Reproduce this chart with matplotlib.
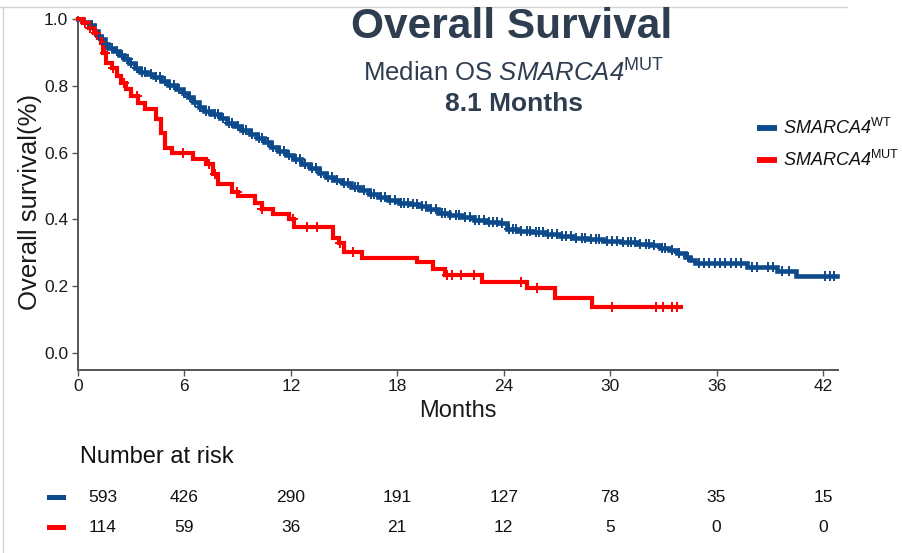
import numpy as np
import matplotlib
matplotlib.use("Agg")
import matplotlib.pyplot as plt
from matplotlib.lines import Line2D
from matplotlib.patches import Rectangle
import matplotlib.transforms as mtransforms

plt.rcParams['font.family'] = ['Liberation Sans', 'DejaVu Sans']
plt.rcParams['mathtext.fontset'] = 'custom'
plt.rcParams['mathtext.rm'] = 'Liberation Sans'
plt.rcParams['mathtext.it'] = 'Liberation Sans:italic'
plt.rcParams['mathtext.sf'] = 'Liberation Sans:italic'
plt.rcParams['mathtext.bf'] = 'Liberation Sans:bold'

# ---- Kaplan-Meier step data (months, survival probability) ----
wt_time = [0, 0.3, 0.6, 0.9, 1.1, 1.3, 1.5, 1.7, 2.0, 2.3, 2.6, 2.9, 3.2, 3.5, 3.9,
           4.3, 4.7, 5.1, 5.5, 5.9, 6.2, 6.5, 6.8, 7.1, 7.5, 8.0, 8.4, 8.8, 9.2, 9.7,
           10.1, 10.5, 10.9, 11.3, 11.7, 12.1, 12.6, 13.1, 13.6, 14.0, 14.4, 14.9,
           15.4, 15.9, 16.4, 16.9, 17.5, 18.1, 18.7, 19.2, 19.7, 20.3, 20.9, 21.6,
           22.3, 23.0, 23.7, 24.2, 24.8, 25.6, 26.4, 27.2, 27.9, 28.7, 29.6, 30.6,
           31.5, 32.3, 32.8, 33.3, 33.8, 34.2, 34.5, 34.8, 37.7, 39.4, 40.5, 42.8]
wt_surv = [1.0, 0.993, 0.983, 0.965, 0.95, 0.94, 0.925, 0.915, 0.905, 0.893, 0.88,
           0.868, 0.853, 0.842, 0.835, 0.828, 0.815, 0.803, 0.792, 0.78, 0.768, 0.752,
           0.738, 0.724, 0.715, 0.703, 0.69, 0.68, 0.668, 0.655, 0.645, 0.632, 0.618,
           0.605, 0.592, 0.58, 0.567, 0.555, 0.54, 0.528, 0.518, 0.508, 0.498, 0.488,
           0.477, 0.467, 0.458, 0.45, 0.447, 0.44, 0.43, 0.42, 0.413, 0.407, 0.398,
           0.392, 0.388, 0.372, 0.366, 0.362, 0.356, 0.351, 0.345, 0.34, 0.336, 0.332,
           0.327, 0.322, 0.315, 0.308, 0.298, 0.288, 0.278, 0.27, 0.258, 0.246, 0.231,
           0.231]
wt_censor = [0.8, 1.2, 1.6, 1.9, 2.2, 2.5, 2.8, 3.0, 3.3, 3.6, 3.8, 4.1, 4.4, 4.6, 4.9,
             5.2, 5.4, 5.7, 6.0, 6.3, 6.6, 6.9, 7.2, 7.4, 7.7, 7.9, 8.2, 8.5, 8.7, 9.0,
             9.3, 9.5, 9.8, 10.2, 10.4, 10.7, 11.0, 11.4, 11.6, 11.9, 12.3, 12.5, 12.8,
             13.2, 13.4, 13.7, 14.1, 14.3, 14.6, 15.0, 15.2, 15.6, 15.8, 16.1, 16.5,
             16.7, 17.1, 17.3, 17.6, 17.9, 18.2, 18.4, 18.6, 18.9, 19.1, 19.4, 19.6,
             19.9, 20.2, 20.5, 20.7, 21.0, 21.3, 21.5, 21.8, 22.1, 22.4, 22.6, 22.9,
             23.2, 23.4, 23.6, 23.9, 24.3, 24.5, 24.7, 25.0, 25.3, 25.5, 25.8, 26.0,
             26.2, 26.5, 26.7, 27.0, 27.3, 27.5, 27.8, 28.1, 28.4, 28.6, 28.9, 29.2,
             29.4, 29.8, 30.1, 30.4, 30.7, 31.0, 31.2, 31.4, 31.7, 32.0, 32.2, 32.5,
             32.9, 33.1, 33.5, 33.9, 34.4, 35.0, 35.3, 35.6, 35.9, 36.2, 36.5, 36.8,
             37.1, 37.4, 38.0, 38.3, 38.9, 39.2, 39.7, 40.1, 42.1, 42.4, 42.6]

mut_time = [0, 0.3, 0.6, 0.9, 1.1, 1.3, 1.4, 1.6, 1.9, 2.2, 2.4, 2.7, 3.0, 3.4, 3.8,
            4.4, 4.7, 4.9, 5.3, 6.5, 7.2, 7.6, 7.9, 8.7, 9.0, 10.0, 10.4, 11.0, 11.9,
            12.2, 14.4, 14.7, 15.0, 16.0, 19.1, 20.0, 20.7, 22.8, 25.3, 26.9, 29.0, 34.0]
mut_surv = [1.0, 0.99, 0.975, 0.96, 0.945, 0.93, 0.90, 0.87, 0.855, 0.83, 0.81, 0.79,
            0.77, 0.75, 0.73, 0.70, 0.66, 0.615, 0.60, 0.58, 0.565, 0.535, 0.505, 0.483,
            0.47, 0.45, 0.43, 0.415, 0.40, 0.378, 0.345, 0.33, 0.303, 0.285, 0.273,
            0.25, 0.232, 0.213, 0.195, 0.165, 0.138, 0.138]
mut_censor = [0.4, 0.7, 1.0, 1.5, 2.0, 2.6, 3.3, 5.9, 7.4, 7.7, 8.95, 10.4, 12.1, 12.9,
              13.5, 14.8, 15.5, 20.8, 21.1, 21.6, 22.3, 25.0, 25.9, 30.1, 32.6, 33.0,
              33.5, 33.8]

# ---- number at risk ----
risk_times = [0, 6, 12, 18, 24, 30, 36, 42]
risk_wt = [593, 426, 290, 191, 127, 78, 35, 15]
risk_mut = [114, 59, 36, 21, 12, 5, 0, 0]

x_ticks = [0, 6, 12, 18, 24, 30, 36, 42]
y_ticks = [0.0, 0.2, 0.4, 0.6, 0.8, 1.0]

BLUE = '#0C4A8B'
RED = '#FF0000'
SLATE = '#2E3D4F'
AXIS_GRAY = '#555555'

W, H = 902, 553
fig = plt.figure(figsize=(W / 100, H / 100), dpi=100)


def fx(px):
    return px / W


def fy(py):
    return 1 - py / H


ax = fig.add_axes([fx(78), fy(369.5), fx(838) - fx(78), fy(17) - fy(369.5)])
ax.set_xlim(0, 42.85)
ax.set_ylim(-0.05, 1.007)


def step_value(times, surv, t):
    idx = np.searchsorted(np.asarray(times), t, side='right') - 1
    return np.asarray(surv)[idx]


for times, surv, cens, col, lw in [(wt_time, wt_surv, wt_censor, BLUE, 3.3),
                                   (mut_time, mut_surv, mut_censor, RED, 3.0)]:
    ax.step(times, surv, where='post', color=col, lw=lw, clip_on=False,
            solid_joinstyle='miter', zorder=3)
    cens = np.asarray(cens)
    ax.plot(cens, step_value(times, surv, cens), ls='none', marker='+',
            ms=7, mew=1.4, color=col, clip_on=False, zorder=4)

for side in ['top', 'right']:
    ax.spines[side].set_visible(False)
for side in ['left', 'bottom']:
    ax.spines[side].set_color(AXIS_GRAY)
    ax.spines[side].set_linewidth(1.4)

ax.set_xticks(x_ticks)
ax.set_yticks(y_ticks)
ax.set_yticklabels([f'{v:.1f}' for v in y_ticks])
ax.tick_params(axis='both', direction='out', length=4, width=1.0, color=AXIS_GRAY,
               labelsize=12.5, labelcolor='#1a1a1a', pad=3)

ax.set_xlabel('Months', fontsize=17, color='#1a1a1a')
ax.set_ylabel('Overall survival(%)', fontsize=18.5, color='#1a1a1a')
ax.yaxis.set_label_coords(fx(30), fy(202), transform=fig.transFigure)
ax.xaxis.set_label_coords(fx(458), fy(411), transform=fig.transFigure)
ax.xaxis.label.set_va('center')
ax.yaxis.label.set_va('center')

# titles
fig.text(fx(512), fy(27), 'Overall Survival', fontsize=30.5, fontweight='bold',
         color=SLATE, ha='center', va='center')
fig.text(fx(514), fy(73), r'Median OS $\mathsf{SMARCA4}^{\mathrm{MUT}}$', fontsize=18.5,
         color=SLATE, ha='center', va='center')
fig.text(fx(514), fy(104), '8.1 Months', fontsize=19, fontweight='bold',
         color=SLATE, ha='center', va='center')

# legend
for py, col, lab in [(128, BLUE, r'$\mathsf{SMARCA4}^{\mathrm{WT}}$'),
                     (160, RED, r'$\mathsf{SMARCA4}^{\mathrm{MUT}}$')]:
    fig.add_artist(Line2D([fx(757), fx(777)], [fy(py), fy(py)], lw=4.2, color=col,
                          solid_capstyle='butt'))
    fig.text(fx(783), fy(py), lab, fontsize=13, color='#111111', ha='left',
             va='center')

# number at risk table
fig.text(fx(80), fy(457), 'Number at risk', fontsize=17, color='#111111',
         ha='left', va='center')
trans = mtransforms.blended_transform_factory(ax.transData, fig.transFigure)
for py, col, vals in [(497, BLUE, risk_wt), (527, RED, risk_mut)]:
    fig.add_artist(Rectangle((fx(47), fy(py) - 2.5 / H), 19 / W, 5 / H,
                             color=col, lw=0))
    for t, v in zip(risk_times, vals):
        if t == 0:
            fig.text(t + 0.6, fy(py), str(v), transform=trans, fontsize=12.5,
                     color='#111111', ha='left', va='center')
        else:
            fig.text(t, fy(py), str(v), transform=trans, fontsize=12.5,
                     color='#111111', ha='center', va='center')

# outer frame lines
fig.add_artist(Line2D([fx(0), fx(847)], [fy(7), fy(7)], lw=1.0, color='#d4d4d4'))
fig.add_artist(Line2D([fx(3), fx(3)], [fy(7), fy(553)], lw=1.0, color='#d4d4d4'))

fig.savefig('out.png', dpi=100)
